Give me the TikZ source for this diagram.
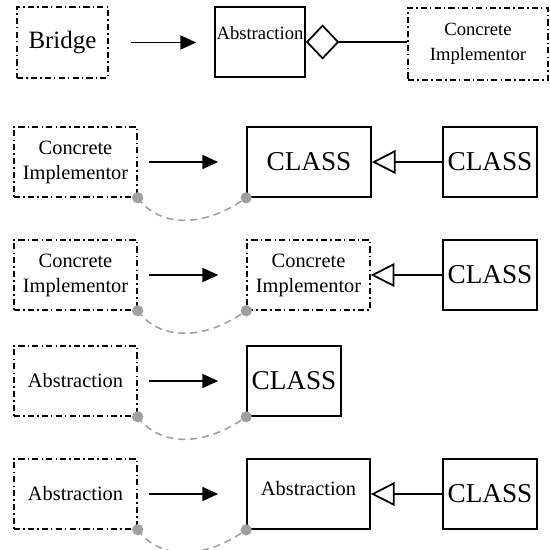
\documentclass[tikz,border=0pt]{standalone}
\usepackage{fontspec}
\setmainfont{Liberation Serif}
\usepackage{tikz}
\usetikzlibrary{arrows.meta,positioning,calc}
\usepackage{xcolor}
\definecolor{linkgray}{RGB}{160,160,160}

\begin{document}
\begin{tikzpicture}[x=0.02cm, y=-0.02cm,
    role/.style={draw, line width=0.85pt, inner sep=0pt,
        dash pattern=on 3.5pt off 1.8pt on 0.8pt off 1.8pt, align=center},
    cls/.style={draw, line width=1pt, inner sep=0pt, align=center},
    flow/.style={line width=1pt, -{Triangle[length=9pt,width=8pt]}},
    inherit/.style={line width=1pt, -{Triangle[open,length=13.5pt,width=13.5pt]}},
    link/.style={linkgray, line width=0.9pt, dash pattern=on 4pt off 2.8pt},
    big/.style={font=\fontsize{15.5}{17}\selectfont},
    mid/.style={font=\fontsize{11.6}{14.2}\selectfont},
    small/.style={font=\fontsize{10.6}{14.2}\selectfont}]
    \useasboundingbox (0,0) rectangle (550,550);

    % Bridge row
    \node[role, font=\fontsize{14.2}{17}\selectfont, minimum width=1.82cm, minimum height=1.42cm] (bridge) at (62.5,42.5) {Bridge};
    \node[cls, small, text depth=10pt, minimum width=1.8cm, minimum height=1.4cm] (abs0) at (260,42) {Abstraction};
    \node[role, small, minimum width=2.8cm, minimum height=1.44cm] (ci0) at (478,44) {Concrete\\Implementor};
    \draw[flow, shorten <=0.44cm, shorten >=0.36cm] (bridge.east) -- (abs0.west |- bridge.east);
    \draw[line width=1pt, {Diamond[open,length=19pt,width=20pt]}-] (abs0.east) -- (ci0.west |- abs0.east);

    % Concrete Implementor -> CLASS
    \node[role, mid, minimum width=2.46cm, minimum height=1.4cm] (ci1) at (75.5,162) {Concrete\\Implementor};
    \node[cls, big, minimum width=2.48cm, minimum height=1.4cm] (cls1) at (309,162) {CLASS};
    \node[cls, big, minimum width=1.88cm, minimum height=1.4cm] (cls2) at (490,162) {CLASS};
    \draw[flow, shorten <=0.22cm, shorten >=0.56cm] (ci1.east) -- (cls1.west);
    \draw[inherit] (cls2.west) -- (cls1.east);

    % Concrete Implementor -> Concrete Implementor
    \node[role, mid, minimum width=2.46cm, minimum height=1.4cm] (ci2) at (75.5,275) {Concrete\\Implementor};
    \node[role, mid, minimum width=2.46cm, minimum height=1.4cm] (ci3) at (308.5,275) {Concrete\\Implementor};
    \node[cls, big, minimum width=1.88cm, minimum height=1.4cm] (cls3) at (490,275) {CLASS};
    \draw[flow, shorten <=0.22cm, shorten >=0.56cm] (ci2.east) -- (ci3.west);
    \draw[inherit] (cls3.west) -- (ci3.east);

    % Abstraction -> CLASS
    \node[role, mid, minimum width=2.46cm, minimum height=1.4cm] (abs1) at (75.5,381) {Abstraction};
    \node[cls, big, minimum width=1.88cm, minimum height=1.4cm] (cls4) at (294,381) {CLASS};
    \draw[flow, shorten <=0.22cm, shorten >=0.56cm] (abs1.east) -- (cls4.west);

    % Abstraction -> Abstraction
    \node[role, mid, minimum width=2.46cm, minimum height=1.4cm] (abs2) at (75.5,494) {Abstraction};
    \node[cls, mid, text height=8pt, text depth=6pt, minimum width=2.46cm, minimum height=1.4cm] (abs3) at (308.5,494) {Abstraction};
    \node[cls, big, minimum width=1.88cm, minimum height=1.4cm] (cls5) at (490,494) {CLASS};
    \draw[flow, shorten <=0.22cm, shorten >=0.56cm] (abs2.east) -- (abs3.west);
    \draw[inherit] (cls5.west) -- (abs3.east);

    % gray links between the pairs
    \foreach \a/\b in {ci1/cls1, ci2/ci3, abs1/cls4, abs2/abs3} {
        \draw[link] (\a.south east) .. controls +(20,28) and +(-45,32) .. (\b.south west);
        \fill[linkgray] (\a.south east) circle (3.2pt);
        \fill[linkgray] (\b.south west) circle (3.2pt);
    }
\end{tikzpicture}
\end{document}
